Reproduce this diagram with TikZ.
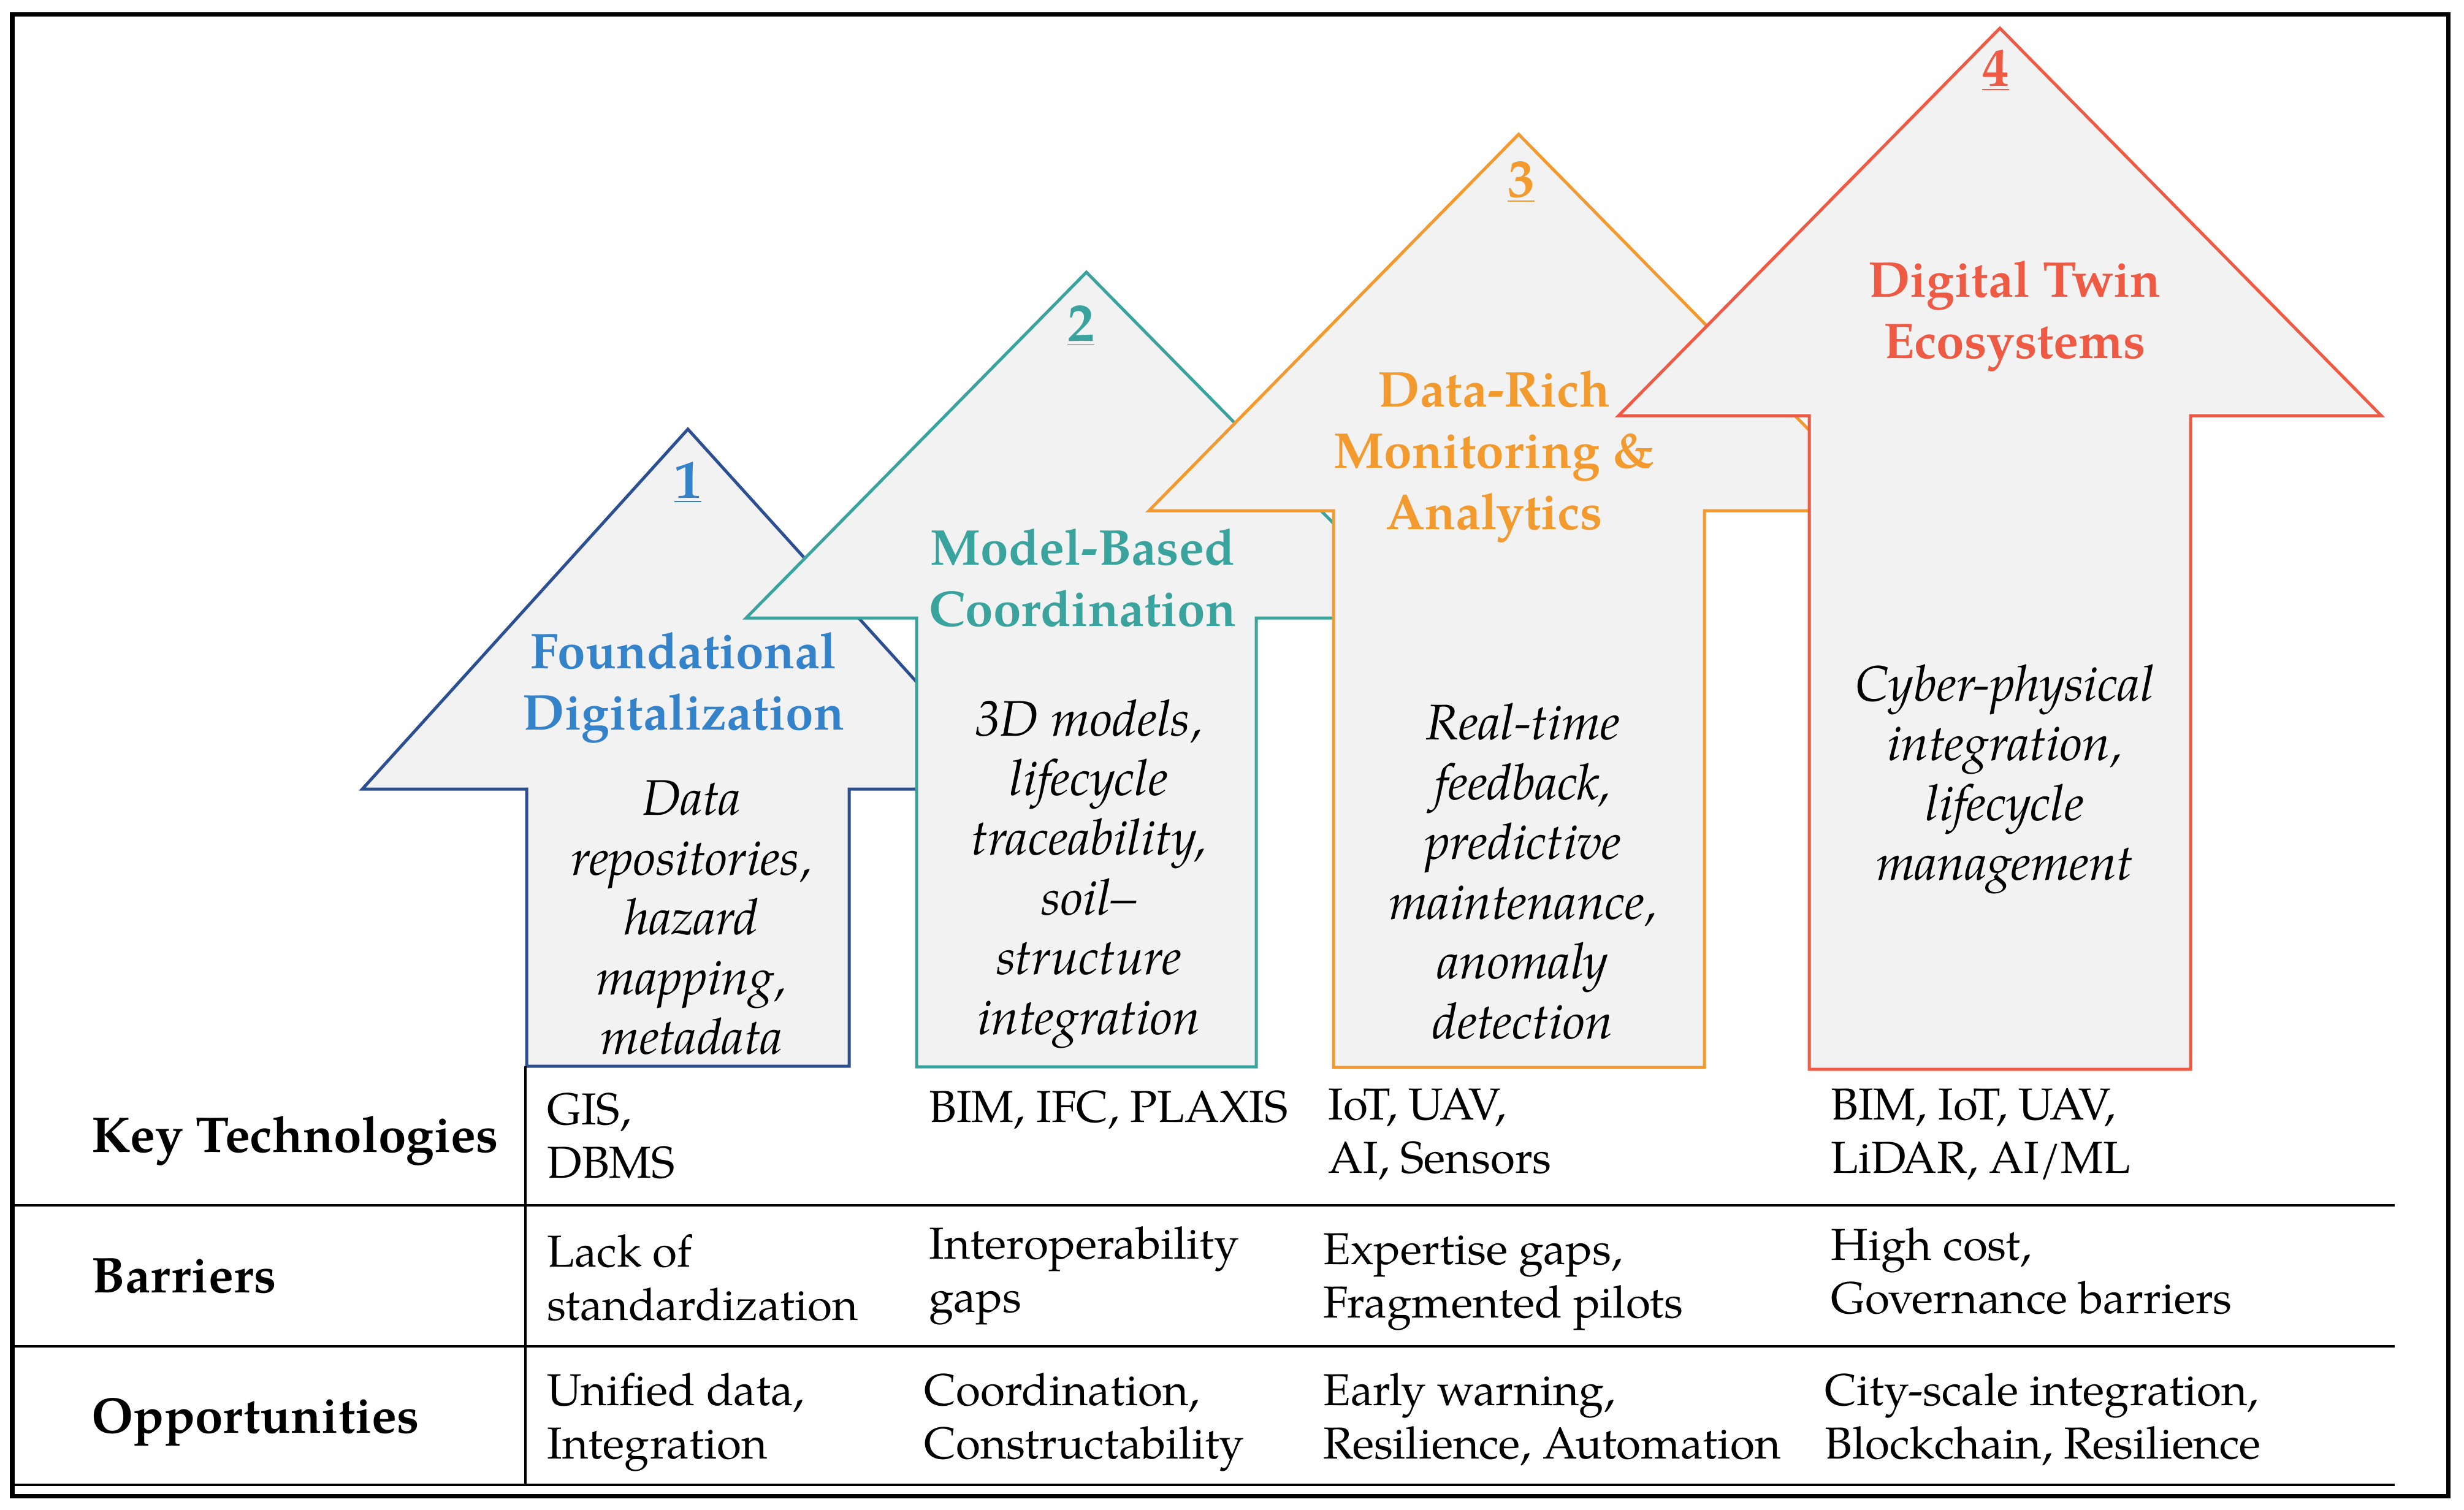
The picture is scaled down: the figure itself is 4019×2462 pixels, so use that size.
\documentclass[tikz,border=0pt]{standalone}
\usepackage{fontspec}
\setmainfont{texgyrepagella}[Extension=.otf, UprightFont=*-regular, BoldFont=*-bold, ItalicFont=*-italic, BoldItalicFont=*-bolditalic]
\definecolor{afill}{HTML}{F2F2F2}
\definecolor{c1line}{HTML}{2C4F92}
\definecolor{c1text}{HTML}{3482C9}
\definecolor{c2}{HTML}{3AA39E}
\definecolor{c3}{HTML}{F39A2E}
\definecolor{c4}{HTML}{EE5A43}
\begin{document}
\begin{tikzpicture}[x=0.01cm,y=-0.01cm,
  arrowshape/.style={fill=afill, line width=0.05cm, line join=miter},
  numtxt/.style={inner sep=0pt, font=\fontsize{25}{28}\selectfont\bfseries},
  titletxt/.style={inner sep=0pt, align=center, font=\fontsize{23.3}{28.4}\selectfont\bfseries},
  desctxt/.style={inner sep=0pt, align=center, font=\fontsize{23.2}{27.7}\selectfont\itshape},
  rowlabel/.style={inner sep=0pt, anchor=west, font=\fontsize{23.3}{28}\selectfont\bfseries},
  celltxt/.style={inner sep=0pt, anchor=west, align=left, font=\fontsize{20.75}{24.7}\selectfont},
  tableline/.style={line width=0.045cm}]
\useasboundingbox (0,0) rectangle (4019,2462);
\fill[white] (0,0) rectangle (4019,2462);

% arrows
\draw[arrowshape, draw=c1line] (1122,700) -- (1653,1287) -- (1385,1287) -- (1385,1739) -- (859,1739) -- (859,1287) -- (591,1287) -- cycle;
\draw[arrowshape, draw=c2] (1772,444) -- (2327,1008) -- (2049,1008) -- (2049,1740) -- (1495,1740) -- (1495,1008) -- (1217,1008) -- cycle;
\draw[arrowshape, draw=c3] (2477,219) -- (3080,833) -- (2780,833) -- (2780,1741) -- (2175,1741) -- (2175,833) -- (1874,833) -- cycle;
\draw[arrowshape, draw=c4] (3262,46) -- (3884,678) -- (3573,678) -- (3573,1744) -- (2951,1744) -- (2951,678) -- (2640,678) -- cycle;

% arrow texts
\node[numtxt, text=c1text] (n1) at (1122,787) {\underline{1}};
\node[titletxt, text=c1text] (t1) at (1115,1122) {Foundational\\Digitalization};
\node[desctxt] (d1) at (1128,1497) {Data\\repositories,\\hazard\\mapping,\\metadata};

\node[numtxt, text=c2] (n2) at (1763,531) {\underline{2}};
\node[titletxt, text=c2] (t2) at (1766,943) {Model-Based\\Coordination};
\node[desctxt] (d2) at (1776,1425) {3D models,\\lifecycle\\traceability,\\soil--\\structure\\integration};

\node[numtxt, text=c3] (n3) at (2481,297) {\underline{3}};
\node[titletxt, text=c3] (t3) at (2437,745) {Data-Rich\\Monitoring \&\\Analytics};
\node[desctxt] (d3) at (2484,1421) {Real-time\\feedback,\\predictive\\maintenance,\\anomaly\\detection};

\node[numtxt, text=c4] (n4) at (3255,115) {\underline{4}};
\node[titletxt, text=c4] (t4) at (3286,516) {Digital Twin\\Ecosystems};
\node[desctxt] (d4) at (3270,1271) {Cyber-physical\\integration,\\lifecycle\\management};

% table lines
\draw[tableline] (857,1739) -- (857,2422);
\draw[tableline] (20,1966) -- (3906,1966);
\draw[tableline] (20,2196) -- (3906,2196);
\draw[tableline] (20,2422) -- (3906,2422);
\draw[line width=0.07cm] (20,23) rectangle (3993,2440);

% row labels
\node[rowlabel] (r1) at (149,1861) {Key Technologies};
\node[rowlabel] (r2) at (149,2081) {Barriers};
\node[rowlabel] (r3) at (149,2320) {Opportunities};

% cells
\node[celltxt] (k1) at (892,1853) {GIS,\\DBMS};
\node[celltxt] (k2) at (1515,1810) {BIM, IFC, PLAXIS};
\node[celltxt] (k3) at (2166,1850) {IoT, UAV,\\AI, Sensors};
\node[celltxt] (k4) at (2986,1850) {BIM, IoT, UAV,\\LiDAR, AI/ML};

\node[celltxt] (b1) at (892,2084) {Lack of\\standardization};
\node[celltxt] (b2) at (1515,2081) {Interoperability\\gaps};
\node[celltxt] (b3) at (2158,2091) {Expertise gaps,\\Fragmented pilots};
\node[celltxt] (b4) at (2986,2073) {High cost,\\Governance barriers};

\node[celltxt] (o1) at (892,2320) {Unified data,\\Integration};
\node[celltxt] (o2) at (1507,2320) {Coordination,\\Constructability};
\node[celltxt] (o3) at (2158,2315) {Early warning,\\Resilience, Automation};
\node[celltxt] (o4) at (2976,2315) {City-scale integration,\\Blockchain, Resilience};
\end{tikzpicture}
\end{document}
